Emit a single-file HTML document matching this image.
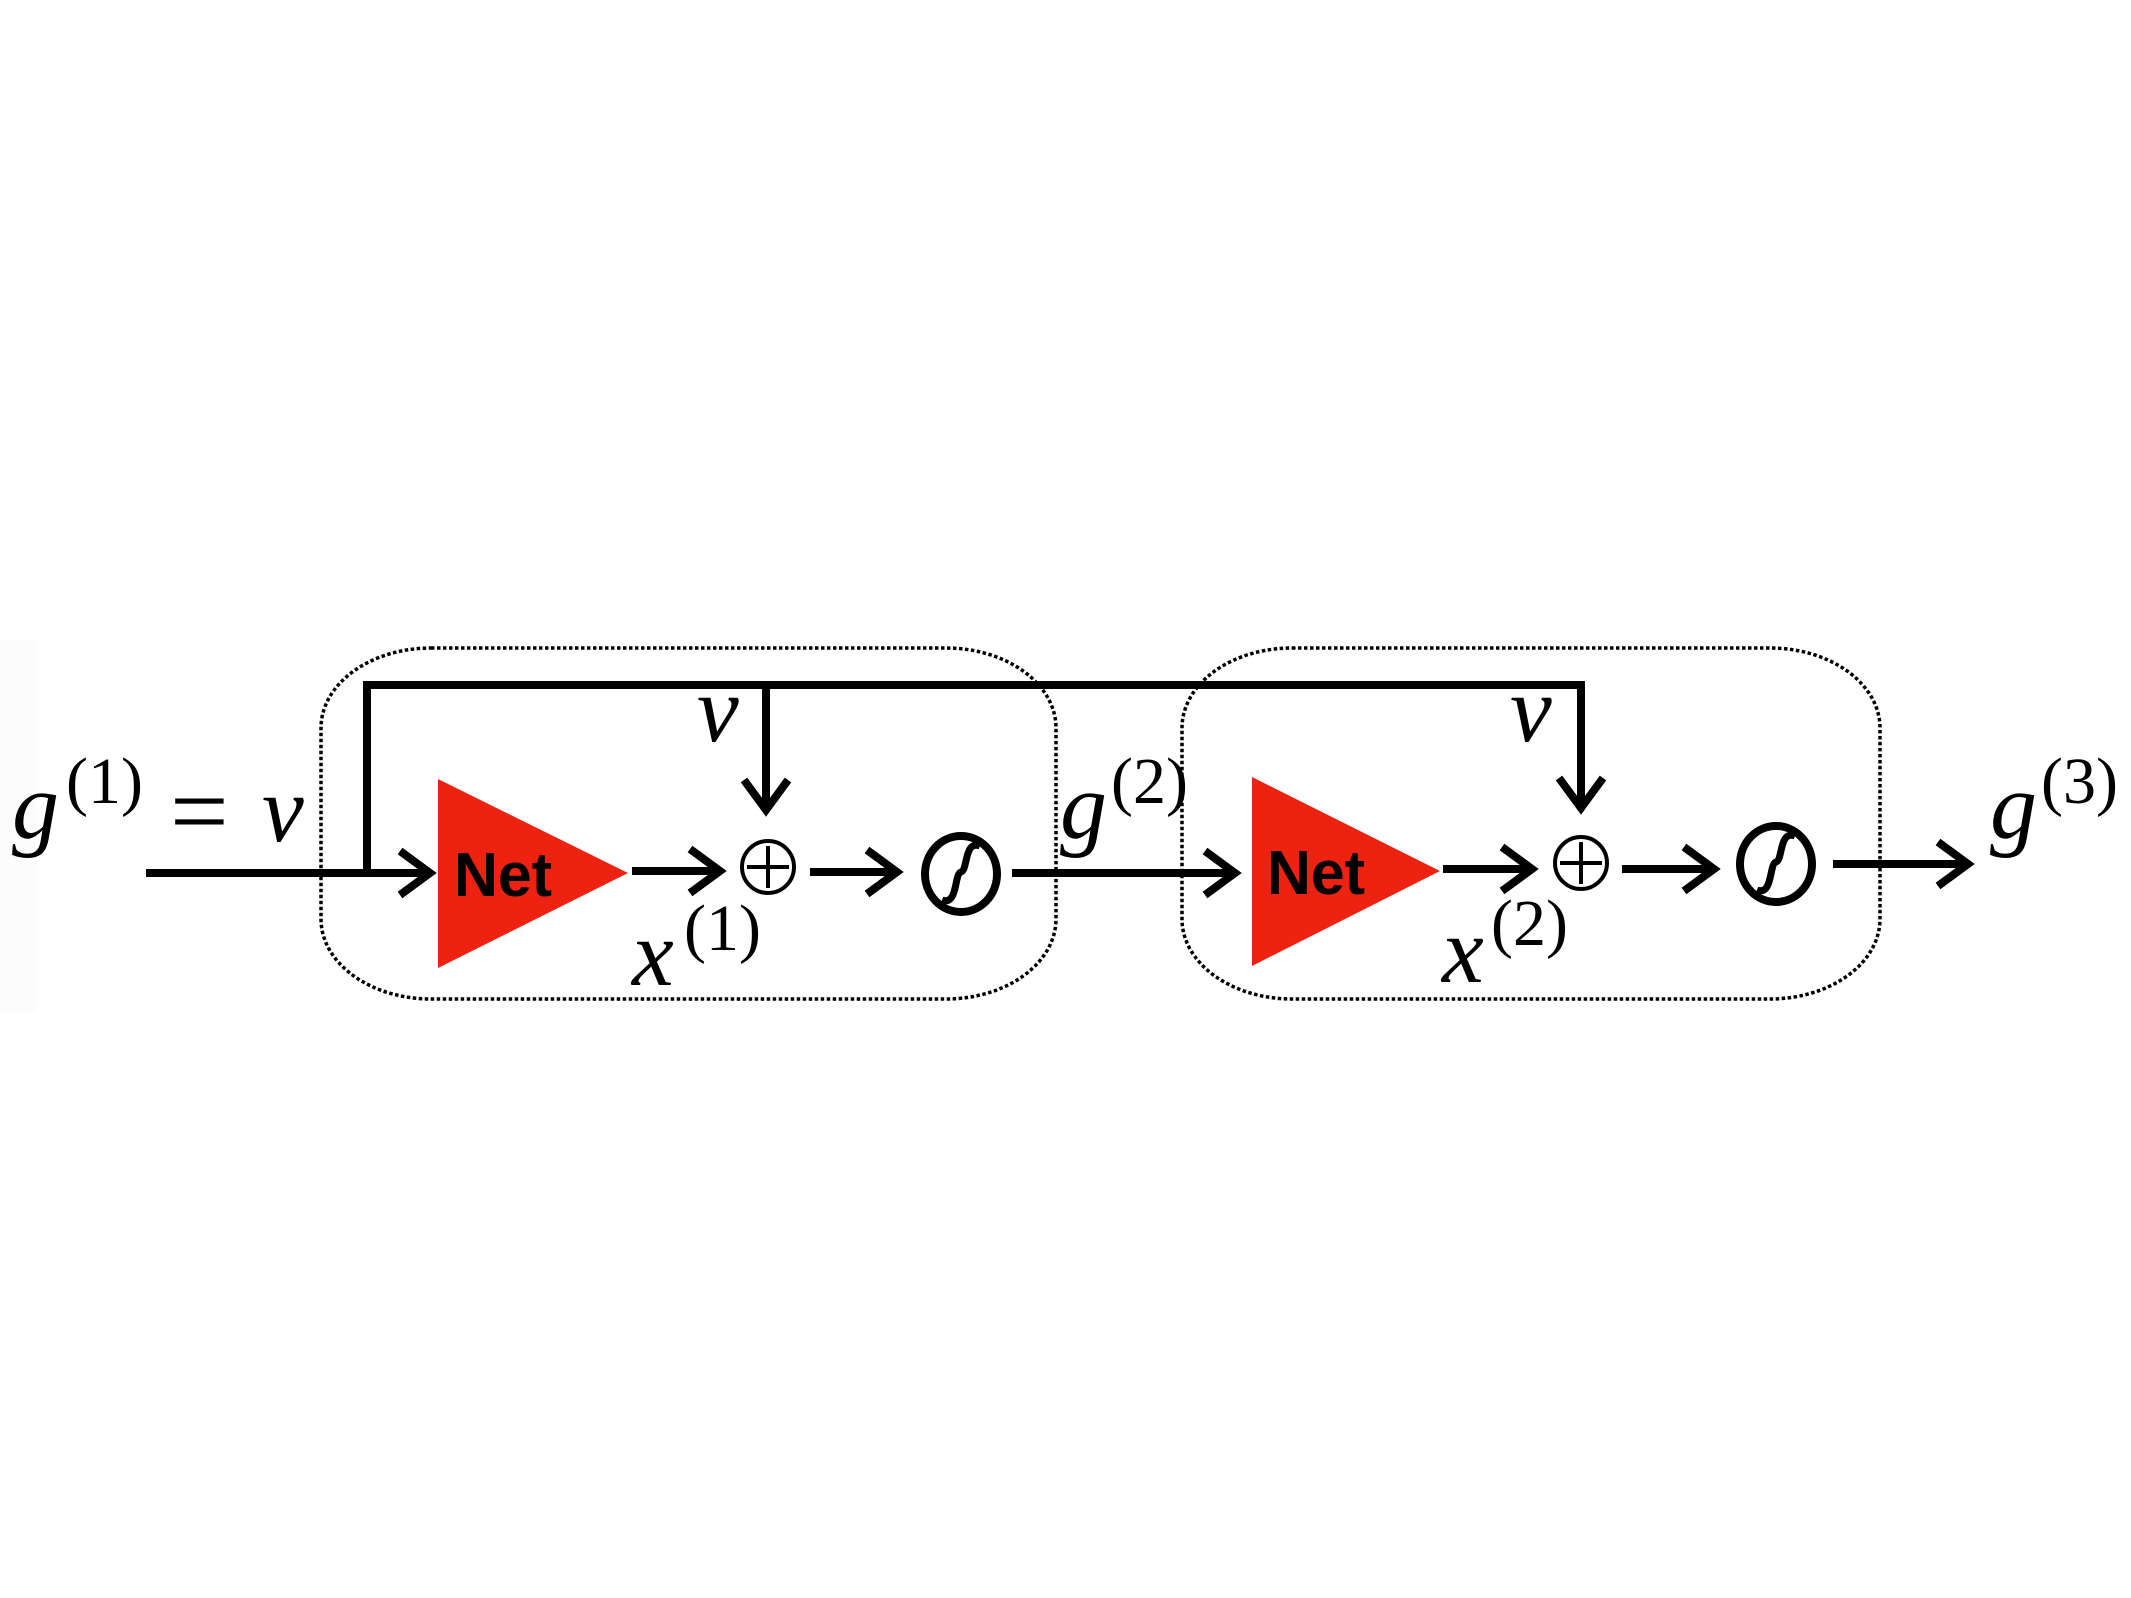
<!DOCTYPE html>
<html><head><meta charset="utf-8"><style>
html,body{margin:0;padding:0;background:#fff;}
svg{display:block;}
.m{font-family:"Liberation Serif",serif;font-style:italic;fill:#000;}
.n{font-family:"Liberation Serif",serif;fill:#000;}
</style></head><body>
<svg width="2131" height="1598" viewBox="0 0 2131 1598">
<rect x="0" y="640" width="36" height="372" fill="#fcfcfc"/>
<rect x="321" y="648" width="735" height="351" rx="110" ry="80" fill="none" stroke="#000" stroke-width="3.5" stroke-dasharray="3.5 2.5"/>
<rect x="1182" y="648" width="698" height="351" rx="110" ry="80" fill="none" stroke="#000" stroke-width="3.5" stroke-dasharray="3.5 2.5"/>
<g stroke="#000" stroke-width="8" fill="none" stroke-linecap="butt">
<path d="M367 873 V685 H1581 V806"/>
<path d="M766 685 V808"/>
<path d="M744 780 L766 810 L788 780"/>
<path d="M1559 778 L1581 808 L1603 778"/>
<path d="M146 873 H428"/>
<path d="M400 851 L430 873 L400 895"/>
<path d="M632 871 H718"/>
<path d="M690 849 L720 871 L690 893"/>
<path d="M810 872 H895"/>
<path d="M867 850 L897 872 L867 894"/>
<path d="M1012 873 H1233"/>
<path d="M1205 851 L1235 873 L1205 895"/>
<path d="M1443 869 H1530"/>
<path d="M1502 847 L1532 869 L1502 891"/>
<path d="M1622 869 H1712"/>
<path d="M1684 847 L1714 869 L1684 891"/>
<path d="M1833 864 H1966"/>
<path d="M1938 842 L1968 864 L1938 886"/>
<ellipse cx="961" cy="874" rx="36" ry="38"/>
<ellipse cx="1776" cy="864" rx="36" ry="38"/>
</g>
<g stroke="#000" stroke-width="7" fill="none">
<path d="M942 900 C958 906 954 874 961 872 C968 870 964 840 980 846"/>
<path d="M1757 890 C1773 896 1769 864 1776 862 C1783 860 1779 830 1795 836"/>
</g>
<g stroke="#000" stroke-width="4" fill="none">
<circle cx="768" cy="867" r="26"/>
<path d="M768 846 V888 M747 867 H789"/>
<circle cx="1581" cy="863" r="26"/>
<path d="M1581 842 V884 M1560 863 H1602"/>
</g>
<polygon points="438,779 438,968 628,873" fill="#ee2211"/>
<polygon points="1252,777 1252,966 1440,871" fill="#ee2211"/>
<text x="454" y="896" font-family="Liberation Sans, sans-serif" font-weight="bold" font-size="62" textLength="98" lengthAdjust="spacingAndGlyphs">Net</text>
<text x="1267" y="894" font-family="Liberation Sans, sans-serif" font-weight="bold" font-size="62" textLength="98" lengthAdjust="spacingAndGlyphs">Net</text>
<text class="m" x="12" y="838" font-size="94">g</text>
<text class="n" x="66" y="803" font-size="66">(1)</text>
<text class="n" x="170" y="846" font-size="104">=</text>
<text class="m" x="262" y="841" font-size="94">v</text>
<text class="m" x="697" y="741" font-size="94">v</text>
<text class="m" x="1510" y="741" font-size="94">v</text>
<text class="m" x="632" y="985" font-size="94">x</text>
<text class="n" x="684" y="950" font-size="66">(1)</text>
<text class="m" x="1442" y="982" font-size="94">x</text>
<text class="n" x="1491" y="945" font-size="66">(2)</text>
<text class="m" x="1060" y="838" font-size="94">g</text>
<text class="n" x="1111" y="803" font-size="66">(2)</text>
<text class="m" x="1990" y="838" font-size="94">g</text>
<text class="n" x="2041" y="803" font-size="66">(3)</text>
</svg>
</body></html>
